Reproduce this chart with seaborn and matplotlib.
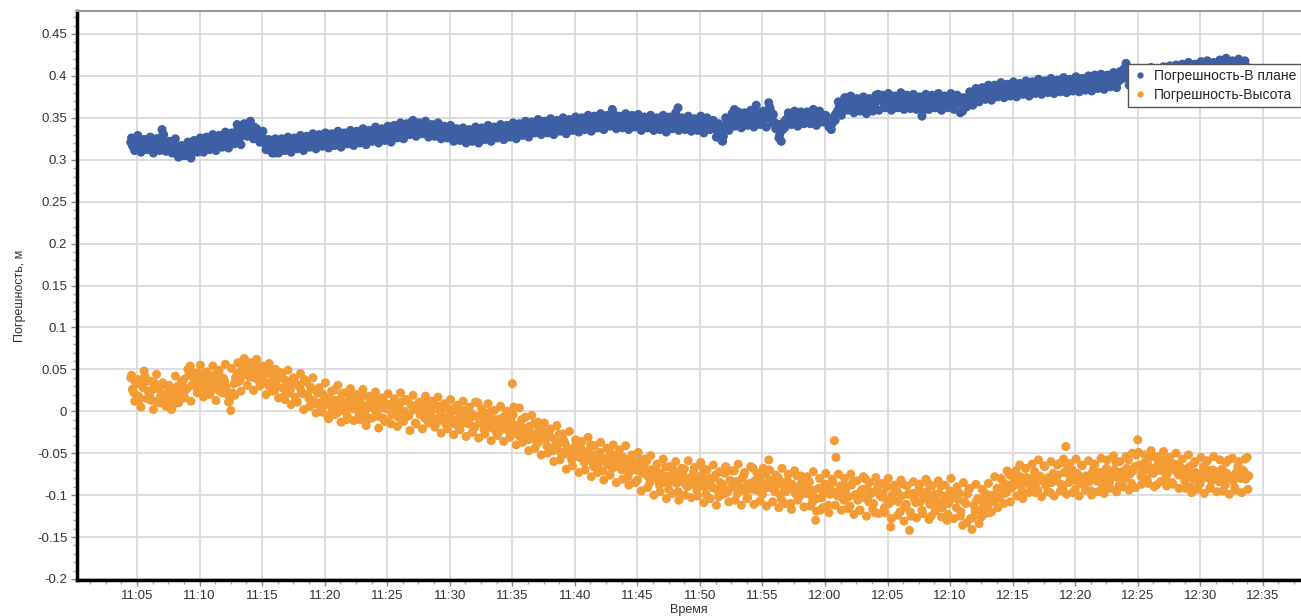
import numpy as np
import pandas as pd
import matplotlib
matplotlib.use("Agg")
import matplotlib.pyplot as plt
from matplotlib.ticker import MultipleLocator, FuncFormatter
import seaborn as sns

# время начала записи (минуты от полуночи), шаг 15 с;
# наборы отсчётов b и c сдвинуты на 7.5 с и 3.75 с
t_start = 11 * 60 + 4.5
t_step = 0.25
t_shift_b = 0.125
t_shift_c = 0.0625

# Погрешность в плане, м (12 отсчётов = 3 минуты в строке, начиная с 11:04:30)
err_plan = [
    0.321, 0.314, 0.319, 0.323, 0.316, 0.313, 0.320, 0.318, 0.315, 0.322, 0.336, 0.320,
    0.315, 0.321, 0.309, 0.315, 0.316, 0.306, 0.308, 0.315, 0.311, 0.318, 0.322, 0.317,
    0.321, 0.316, 0.322, 0.325, 0.319, 0.318, 0.325, 0.323, 0.320, 0.328, 0.342, 0.327,
    0.331, 0.338, 0.343, 0.334, 0.330, 0.324, 0.327, 0.319, 0.315, 0.320, 0.308, 0.316,
    0.319, 0.313, 0.318, 0.322, 0.317, 0.314, 0.321, 0.319, 0.316, 0.324, 0.320, 0.323,
    0.320, 0.326, 0.318, 0.324, 0.327, 0.321, 0.319, 0.326, 0.329, 0.322, 0.325, 0.328,
    0.323, 0.329, 0.326, 0.321, 0.330, 0.327, 0.324, 0.332, 0.328, 0.331, 0.326, 0.333,
    0.334, 0.329, 0.336, 0.338, 0.332, 0.339, 0.346, 0.337, 0.341, 0.333, 0.338, 0.335,
    0.332, 0.337, 0.334, 0.330, 0.336, 0.333, 0.338, 0.331, 0.328, 0.333, 0.324, 0.329,
    0.326, 0.331, 0.325, 0.329, 0.333, 0.327, 0.330, 0.335, 0.329, 0.332, 0.336, 0.331,
    0.334, 0.330, 0.337, 0.335, 0.332, 0.339, 0.336, 0.333, 0.340, 0.337, 0.334, 0.341,
    0.339, 0.343, 0.336, 0.340, 0.344, 0.337, 0.341, 0.345, 0.338, 0.342, 0.339, 0.344,
    0.340, 0.346, 0.343, 0.339, 0.347, 0.342, 0.345, 0.348, 0.341, 0.346, 0.360, 0.349,
    0.344, 0.347, 0.342, 0.346, 0.349, 0.341, 0.345, 0.348, 0.343, 0.340, 0.346, 0.342,
    0.341, 0.345, 0.339, 0.343, 0.346, 0.340, 0.344, 0.362, 0.342, 0.338, 0.345, 0.341,
    0.344, 0.340, 0.346, 0.342, 0.338, 0.345, 0.341, 0.336, 0.343, 0.323, 0.337, 0.344,
    0.346, 0.360, 0.344, 0.348, 0.342, 0.347, 0.351, 0.345, 0.365, 0.349, 0.346, 0.352,
    0.368, 0.350, 0.344, 0.339, 0.322, 0.345, 0.349, 0.352, 0.346, 0.350, 0.353, 0.347,
    0.351, 0.356, 0.348, 0.353, 0.350, 0.354, 0.347, 0.343, 0.336, 0.352, 0.358, 0.362,
    0.368, 0.374, 0.362, 0.366, 0.360, 0.365, 0.363, 0.358, 0.366, 0.361, 0.367, 0.378,
    0.372, 0.366, 0.370, 0.364, 0.372, 0.368, 0.375, 0.367, 0.371, 0.365, 0.369, 0.374,
    0.371, 0.352, 0.368, 0.373, 0.367, 0.370, 0.374, 0.366, 0.371, 0.368, 0.372, 0.369,
    0.368, 0.372, 0.358, 0.370, 0.375, 0.373, 0.379, 0.376, 0.382, 0.378, 0.374, 0.381,
    0.379, 0.383, 0.377, 0.381, 0.385, 0.380, 0.384, 0.387, 0.382, 0.386, 0.383, 0.388,
    0.384, 0.388, 0.382, 0.386, 0.389, 0.383, 0.387, 0.390, 0.385, 0.388, 0.384, 0.391,
    0.389, 0.386, 0.392, 0.388, 0.385, 0.391, 0.394, 0.389, 0.393, 0.387, 0.392, 0.395,
    0.391, 0.396, 0.393, 0.398, 0.394, 0.405, 0.410, 0.397, 0.392, 0.396, 0.383, 0.395,
    0.398, 0.394, 0.400, 0.396, 0.402, 0.397, 0.401, 0.404, 0.398, 0.403, 0.400, 0.405,
    0.402, 0.406, 0.401, 0.404, 0.408, 0.403, 0.407, 0.410, 0.405, 0.409, 0.406, 0.411,
    0.409, 0.413, 0.410, 0.407, 0.412, 0.414, 0.409, 0.411, 0.408, 0.410,
]
err_plan_b = [
    0.317, 0.322, 0.315, 0.319, 0.324, 0.318, 0.314, 0.321, 0.325, 0.317, 0.330, 0.315,
    0.312, 0.318, 0.314, 0.310, 0.305, 0.312, 0.316, 0.309, 0.319, 0.314, 0.317, 0.321,
    0.318, 0.324, 0.320, 0.317, 0.323, 0.327, 0.321, 0.326, 0.330, 0.324, 0.335, 0.331,
    0.336, 0.341, 0.337, 0.339, 0.327, 0.331, 0.322, 0.324, 0.318, 0.312, 0.314, 0.319,
    0.315, 0.320, 0.316, 0.313, 0.320, 0.323, 0.318, 0.315, 0.322, 0.318, 0.325, 0.321,
    0.324, 0.319, 0.323, 0.328, 0.322, 0.325, 0.329, 0.323, 0.320, 0.327, 0.324, 0.322,
    0.328, 0.324, 0.331, 0.327, 0.325, 0.333, 0.329, 0.326, 0.330, 0.334, 0.329, 0.331,
    0.330, 0.336, 0.333, 0.330, 0.337, 0.341, 0.340, 0.343, 0.336, 0.340, 0.334, 0.339,
    0.336, 0.331, 0.338, 0.335, 0.331, 0.337, 0.333, 0.336, 0.330, 0.327, 0.330, 0.326,
    0.330, 0.328, 0.332, 0.328, 0.331, 0.334, 0.328, 0.333, 0.331, 0.336, 0.332, 0.335,
    0.331, 0.336, 0.333, 0.338, 0.336, 0.334, 0.338, 0.340, 0.336, 0.339, 0.342, 0.338,
    0.341, 0.338, 0.342, 0.339, 0.336, 0.343, 0.340, 0.337, 0.343, 0.340, 0.345, 0.341,
    0.344, 0.341, 0.347, 0.344, 0.342, 0.345, 0.349, 0.343, 0.347, 0.352, 0.346, 0.343,
    0.347, 0.343, 0.349, 0.345, 0.340, 0.347, 0.343, 0.341, 0.346, 0.344, 0.348, 0.345,
    0.344, 0.340, 0.346, 0.342, 0.339, 0.345, 0.352, 0.348, 0.344, 0.341, 0.343, 0.346,
    0.342, 0.346, 0.341, 0.345, 0.343, 0.339, 0.344, 0.340, 0.331, 0.328, 0.342, 0.347,
    0.355, 0.348, 0.345, 0.351, 0.346, 0.349, 0.345, 0.353, 0.356, 0.352, 0.348, 0.350,
    0.360, 0.354, 0.340, 0.330, 0.336, 0.348, 0.346, 0.350, 0.353, 0.348, 0.351, 0.355,
    0.349, 0.353, 0.351, 0.348, 0.352, 0.349, 0.345, 0.340, 0.346, 0.355, 0.362, 0.366,
    0.371, 0.366, 0.370, 0.363, 0.368, 0.361, 0.366, 0.364, 0.362, 0.368, 0.373, 0.372,
    0.369, 0.373, 0.367, 0.371, 0.366, 0.374, 0.370, 0.366, 0.373, 0.368, 0.372, 0.370,
    0.362, 0.366, 0.372, 0.369, 0.372, 0.367, 0.371, 0.369, 0.366, 0.373, 0.370, 0.367,
    0.371, 0.366, 0.365, 0.373, 0.371, 0.377, 0.375, 0.380, 0.378, 0.381, 0.379, 0.377,
    0.382, 0.380, 0.384, 0.378, 0.383, 0.386, 0.381, 0.385, 0.384, 0.388, 0.385, 0.386,
    0.387, 0.385, 0.389, 0.384, 0.388, 0.386, 0.390, 0.387, 0.389, 0.386, 0.390, 0.388,
    0.387, 0.391, 0.389, 0.393, 0.390, 0.388, 0.392, 0.390, 0.395, 0.391, 0.394, 0.392,
    0.395, 0.392, 0.397, 0.395, 0.400, 0.408, 0.404, 0.394, 0.398, 0.388, 0.392, 0.398,
    0.396, 0.401, 0.398, 0.403, 0.399, 0.404, 0.400, 0.402, 0.406, 0.401, 0.404, 0.402,
    0.405, 0.403, 0.407, 0.405, 0.406, 0.410, 0.408, 0.406, 0.411, 0.407, 0.412, 0.409,
    0.412, 0.410, 0.415, 0.411, 0.409, 0.413, 0.411, 0.414, 0.412, 0.409,
]
err_plan_c = [
    0.326, 0.311, 0.329, 0.309, 0.324, 0.312, 0.327, 0.308, 0.325, 0.311, 0.330, 0.310,
    0.322, 0.308, 0.325, 0.303, 0.317, 0.305, 0.321, 0.302, 0.323, 0.309, 0.326, 0.309,
    0.327, 0.312, 0.330, 0.311, 0.329, 0.315, 0.333, 0.314, 0.332, 0.319, 0.337, 0.318,
    0.343, 0.328, 0.346, 0.325, 0.337, 0.321, 0.334, 0.312, 0.324, 0.308, 0.325, 0.308,
    0.325, 0.311, 0.327, 0.309, 0.326, 0.313, 0.329, 0.311, 0.328, 0.315, 0.331, 0.313,
    0.330, 0.316, 0.332, 0.314, 0.331, 0.317, 0.334, 0.315, 0.332, 0.319, 0.335, 0.317,
    0.334, 0.320, 0.337, 0.318, 0.335, 0.322, 0.339, 0.320, 0.337, 0.323, 0.340, 0.321,
    0.341, 0.326, 0.344, 0.325, 0.343, 0.330, 0.347, 0.328, 0.344, 0.331, 0.346, 0.327,
    0.342, 0.328, 0.344, 0.325, 0.340, 0.326, 0.341, 0.322, 0.337, 0.323, 0.338, 0.320,
    0.336, 0.322, 0.339, 0.320, 0.338, 0.324, 0.341, 0.322, 0.339, 0.326, 0.342, 0.324,
    0.341, 0.327, 0.344, 0.325, 0.343, 0.329, 0.346, 0.327, 0.345, 0.332, 0.348, 0.330,
    0.346, 0.332, 0.349, 0.330, 0.347, 0.334, 0.350, 0.331, 0.348, 0.335, 0.351, 0.333,
    0.350, 0.336, 0.353, 0.334, 0.352, 0.338, 0.355, 0.336, 0.353, 0.340, 0.356, 0.337,
    0.352, 0.338, 0.355, 0.336, 0.353, 0.339, 0.354, 0.335, 0.351, 0.338, 0.353, 0.335,
    0.350, 0.336, 0.353, 0.333, 0.351, 0.337, 0.356, 0.335, 0.350, 0.336, 0.352, 0.334,
    0.349, 0.335, 0.352, 0.332, 0.350, 0.336, 0.347, 0.327, 0.336, 0.322, 0.350, 0.335,
    0.355, 0.340, 0.357, 0.338, 0.356, 0.341, 0.359, 0.339, 0.356, 0.342, 0.358, 0.339,
    0.363, 0.344, 0.337, 0.326, 0.343, 0.339, 0.356, 0.342, 0.358, 0.340, 0.357, 0.343,
    0.357, 0.343, 0.360, 0.341, 0.358, 0.345, 0.353, 0.339, 0.343, 0.347, 0.369, 0.353,
    0.374, 0.359, 0.376, 0.356, 0.373, 0.358, 0.375, 0.355, 0.373, 0.358, 0.377, 0.359,
    0.377, 0.362, 0.379, 0.359, 0.376, 0.362, 0.380, 0.360, 0.377, 0.361, 0.378, 0.360,
    0.375, 0.358, 0.378, 0.360, 0.377, 0.362, 0.379, 0.359, 0.376, 0.362, 0.379, 0.360,
    0.377, 0.356, 0.374, 0.363, 0.381, 0.365, 0.385, 0.369, 0.386, 0.372, 0.389, 0.371,
    0.389, 0.375, 0.392, 0.374, 0.390, 0.376, 0.393, 0.375, 0.391, 0.378, 0.394, 0.376,
    0.393, 0.379, 0.396, 0.378, 0.394, 0.380, 0.397, 0.379, 0.395, 0.381, 0.398, 0.380,
    0.396, 0.382, 0.399, 0.381, 0.397, 0.383, 0.400, 0.382, 0.401, 0.385, 0.402, 0.384,
    0.401, 0.387, 0.404, 0.386, 0.405, 0.397, 0.415, 0.389, 0.403, 0.382, 0.401, 0.388,
    0.408, 0.392, 0.410, 0.391, 0.408, 0.394, 0.411, 0.393, 0.412, 0.396, 0.413, 0.395,
    0.414, 0.398, 0.416, 0.397, 0.414, 0.400, 0.417, 0.399, 0.418, 0.402, 0.416, 0.401,
    0.419, 0.404, 0.421, 0.402, 0.418, 0.405, 0.420, 0.403, 0.418, 0.401,
]

# Погрешность по высоте, м
err_height = [
    0.040, 0.022, 0.033, 0.015, 0.028, 0.036, 0.019, 0.026, 0.012, 0.030, 0.021, 0.008,
    0.024, 0.002, 0.016, 0.030, 0.022, 0.038, 0.027, 0.054, 0.041, 0.029, 0.036, 0.044,
    0.031, 0.039, 0.025, 0.034, 0.042, 0.028, 0.036, 0.020, 0.001, 0.033, 0.045, 0.038,
    0.052, 0.057, 0.041, 0.049, 0.055, 0.036, 0.047, 0.053, 0.031, 0.044, 0.025, 0.038,
    0.046, 0.018, 0.033, 0.026, 0.040, 0.012, 0.029, 0.021, 0.035, 0.015, 0.027, 0.009,
    0.022, 0.004, 0.017, -0.006, 0.011, 0.025, -0.002, 0.014, 0.006, -0.010, 0.019, 0.003,
    0.012, -0.004, 0.018, 0.001, -0.009, 0.009, 0.015, -0.006, 0.004, 0.011, -0.012, 0.007,
    -0.003, 0.010, 0.002, -0.011, 0.014, -0.005, 0.006, -0.014, 0.009, 0.001, -0.008, 0.012,
    -0.006, 0.008, -0.013, -0.001, 0.005, -0.017, -0.004, 0.003, -0.011, -0.020, 0.001, -0.008,
    -0.015, -0.003, -0.019, 0.010, -0.008, -0.022, -0.012, -0.001, -0.018, -0.026, -0.009, -0.014,
    -0.012, -0.024, 0.033, -0.017, -0.029, -0.010, -0.021, -0.034, -0.026, -0.015, -0.038, -0.030,
    -0.024, -0.041, -0.030, -0.047, -0.036, -0.027, -0.052, -0.039, -0.045, -0.058, -0.042, -0.050,
    -0.044, -0.061, -0.053, -0.040, -0.066, -0.057, -0.049, -0.071, -0.060, -0.054, -0.068, -0.058,
    -0.052, -0.070, -0.061, -0.078, -0.057, -0.066, -0.082, -0.064, -0.073, -0.059, -0.085, -0.076,
    -0.070, -0.088, -0.078, -0.066, -0.093, -0.081, -0.074, -0.096, -0.083, -0.069, -0.090, -0.079,
    -0.072, -0.094, -0.085, -0.068, -0.099, -0.080, -0.091, -0.076, -0.102, -0.087, -0.074, -0.095,
    -0.083, -0.071, -0.098, -0.090, -0.077, -0.104, -0.086, -0.068, -0.094, -0.081, -0.099, -0.075,
    -0.058, -0.087, -0.096, -0.079, -0.105, -0.091, -0.083, -0.110, -0.094, -0.077, -0.101, -0.089,
    -0.098, -0.084, -0.108, -0.130, -0.092, -0.103, -0.087, -0.112, -0.095, -0.035, -0.101, -0.089,
    -0.106, -0.090, -0.113, -0.084, -0.099, -0.118, -0.093, -0.081, -0.108, -0.097, -0.121, -0.088,
    -0.102, -0.115, -0.090, -0.138, -0.106, -0.095, -0.120, -0.087, -0.111, -0.142, -0.098, -0.109,
    -0.093, -0.118, -0.104, -0.086, -0.125, -0.099, -0.112, -0.089, -0.107, -0.130, -0.095, -0.101,
    -0.115, -0.098, -0.136, -0.110, -0.093, -0.141, -0.119, -0.104, -0.126, -0.097, -0.113, -0.100,
    -0.108, -0.092, -0.101, -0.085, -0.097, -0.076, -0.090, -0.071, -0.084, -0.095, -0.068, -0.081,
    -0.089, -0.072, -0.094, -0.078, -0.065, -0.086, -0.097, -0.074, -0.083, -0.062, -0.091, -0.042,
    -0.085, -0.070, -0.093, -0.076, -0.064, -0.088, -0.079, -0.095, -0.067, -0.083, -0.073, -0.090,
    -0.068, -0.084, -0.075, -0.061, -0.089, -0.072, -0.080, -0.058, -0.086, -0.066, -0.034, -0.077,
    -0.062, -0.081, -0.055, -0.074, -0.088, -0.066, -0.058, -0.079, -0.070, -0.085, -0.063, -0.076,
    -0.068, -0.083, -0.071, -0.090, -0.062, -0.079, -0.086, -0.066, -0.075, -0.092, -0.070, -0.081,
    -0.084, -0.069, -0.088, -0.058, -0.078, -0.091, -0.066, -0.080, -0.072, -0.055,
]
err_height_b = [
    0.026, 0.035, 0.018, 0.031, 0.042, 0.024, 0.013, 0.034, 0.027, 0.017, 0.032, 0.014,
    0.010, 0.020, 0.026, 0.012, 0.034, 0.025, 0.043, 0.031, 0.036, 0.045, 0.033, 0.027,
    0.036, 0.027, 0.043, 0.032, 0.024, 0.040, 0.029, 0.012, 0.022, 0.040, 0.035, 0.050,
    0.044, 0.050, 0.054, 0.040, 0.046, 0.051, 0.042, 0.034, 0.049, 0.036, 0.030, 0.043,
    0.028, 0.037, 0.022, 0.034, 0.017, 0.031, 0.024, 0.038, 0.020, 0.029, 0.013, 0.023,
    0.010, 0.020, 0.008, 0.016, 0.002, 0.013, 0.007, 0.021, 0.000, 0.012, 0.005, 0.015,
    0.002, 0.010, 0.006, -0.007, 0.013, 0.004, -0.002, 0.009, -0.008, 0.003, 0.008, -0.004,
    0.005, -0.007, 0.011, 0.000, -0.006, 0.008, 0.002, 0.005, -0.004, 0.010, 0.003, -0.005,
    0.002, -0.009, 0.006, -0.006, -0.013, 0.003, -0.008, -0.015, 0.000, -0.006, -0.014, -0.003,
    -0.008, -0.018, -0.006, -0.014, 0.000, -0.016, -0.005, -0.020, -0.010, -0.015, -0.022, -0.006,
    -0.019, -0.011, 0.005, -0.026, -0.016, -0.023, -0.031, -0.018, -0.029, -0.035, -0.022, -0.027,
    -0.035, -0.029, -0.044, -0.033, -0.040, -0.049, -0.035, -0.046, -0.053, -0.044, -0.048, -0.055,
    -0.050, -0.055, -0.047, -0.060, -0.052, -0.063, -0.055, -0.058, -0.064, -0.050, -0.062, -0.066,
    -0.061, -0.055, -0.067, -0.072, -0.063, -0.070, -0.059, -0.074, -0.068, -0.078, -0.070, -0.080,
    -0.081, -0.074, -0.085, -0.077, -0.084, -0.070, -0.086, -0.080, -0.075, -0.088, -0.082, -0.087,
    -0.080, -0.086, -0.077, -0.090, -0.083, -0.088, -0.079, -0.094, -0.085, -0.091, -0.097, -0.083,
    -0.090, -0.084, -0.092, -0.080, -0.095, -0.087, -0.093, -0.083, -0.088, -0.096, -0.086, -0.091,
    -0.082, -0.093, -0.088, -0.099, -0.085, -0.096, -0.092, -0.087, -0.098, -0.091, -0.085, -0.095,
    -0.090, -0.100, -0.094, -0.104, -0.118, -0.097, -0.091, -0.099, -0.085, -0.055, -0.094, -0.103,
    -0.095, -0.102, -0.088, -0.100, -0.106, -0.095, -0.103, -0.092, -0.099, -0.110, -0.094, -0.100,
    -0.097, -0.105, -0.110, -0.100, -0.095, -0.108, -0.101, -0.114, -0.099, -0.125, -0.104, -0.097,
    -0.108, -0.100, -0.096, -0.111, -0.103, -0.107, -0.098, -0.115, -0.101, -0.110, -0.104, -0.097,
    -0.105, -0.120, -0.108, -0.099, -0.128, -0.112, -0.106, -0.118, -0.109, -0.103, -0.121, -0.107,
    -0.099, -0.104, -0.094, -0.098, -0.088, -0.092, -0.083, -0.087, -0.078, -0.086, -0.079, -0.088,
    -0.080, -0.085, -0.077, -0.083, -0.088, -0.079, -0.085, -0.081, -0.076, -0.087, -0.073, -0.065,
    -0.078, -0.082, -0.074, -0.086, -0.080, -0.077, -0.084, -0.073, -0.081, -0.076, -0.087, -0.079,
    -0.074, -0.078, -0.070, -0.079, -0.073, -0.080, -0.068, -0.075, -0.071, -0.052, -0.064, -0.072,
    -0.070, -0.065, -0.073, -0.068, -0.061, -0.071, -0.067, -0.074, -0.062, -0.069, -0.072, -0.066,
    -0.074, -0.078, -0.066, -0.080, -0.073, -0.085, -0.075, -0.079, -0.070, -0.083, -0.077, -0.072,
    -0.076, -0.081, -0.074, -0.079, -0.083, -0.073, -0.078, -0.070, -0.081, -0.077,
]
err_height_c = [
    0.043, 0.012, 0.038, 0.005, 0.048, 0.015, 0.036, 0.002, 0.044, 0.010, 0.034, 0.006,
    0.031, 0.005, 0.042, 0.010, 0.036, 0.016, 0.050, 0.012, 0.046, 0.022, 0.055, 0.017,
    0.047, 0.020, 0.054, 0.013, 0.049, 0.022, 0.056, 0.011, 0.051, 0.019, 0.058, 0.024,
    0.063, 0.031, 0.058, 0.025, 0.062, 0.030, 0.054, 0.020, 0.057, 0.024, 0.050, 0.016,
    0.043, 0.014, 0.049, 0.008, 0.039, 0.011, 0.045, 0.002, 0.036, 0.006, 0.040, -0.002,
    0.028, -0.001, 0.034, -0.009, 0.024, -0.004, 0.031, -0.013, 0.022, -0.006, 0.027, -0.011,
    0.020, -0.010, 0.026, -0.017, 0.018, -0.008, 0.023, -0.020, 0.016, -0.012, 0.021, -0.015,
    0.015, -0.018, 0.022, -0.012, 0.013, -0.023, 0.019, -0.015, 0.011, -0.021, 0.018, -0.014,
    0.012, -0.019, 0.017, -0.026, 0.009, -0.021, 0.014, -0.028, 0.007, -0.022, 0.012, -0.030,
    0.005, -0.025, 0.011, -0.032, 0.003, -0.027, 0.009, -0.035, 0.001, -0.029, 0.006, -0.036,
    0.000, -0.031, -0.004, -0.040, 0.004, -0.037, -0.007, -0.047, -0.005, -0.044, -0.013, -0.052,
    -0.014, -0.050, -0.021, -0.060, -0.017, -0.058, -0.027, -0.069, -0.024, -0.065, -0.034, -0.073,
    -0.036, -0.070, -0.031, -0.078, -0.041, -0.073, -0.037, -0.082, -0.044, -0.076, -0.040, -0.085,
    -0.046, -0.081, -0.041, -0.088, -0.052, -0.085, -0.049, -0.095, -0.057, -0.091, -0.053, -0.100,
    -0.063, -0.096, -0.057, -0.104, -0.066, -0.098, -0.060, -0.106, -0.068, -0.100, -0.059, -0.103,
    -0.067, -0.101, -0.061, -0.109, -0.070, -0.104, -0.064, -0.112, -0.072, -0.099, -0.066, -0.108,
    -0.071, -0.106, -0.063, -0.112, -0.073, -0.103, -0.066, -0.111, -0.074, -0.107, -0.068, -0.113,
    -0.070, -0.108, -0.076, -0.115, -0.068, -0.110, -0.075, -0.117, -0.071, -0.106, -0.077, -0.114,
    -0.078, -0.113, -0.072, -0.119, -0.080, -0.115, -0.074, -0.121, -0.081, -0.112, -0.075, -0.118,
    -0.080, -0.116, -0.075, -0.123, -0.083, -0.118, -0.078, -0.125, -0.085, -0.117, -0.079, -0.122,
    -0.086, -0.121, -0.080, -0.128, -0.088, -0.124, -0.082, -0.131, -0.089, -0.120, -0.084, -0.127,
    -0.087, -0.122, -0.081, -0.129, -0.089, -0.119, -0.083, -0.126, -0.088, -0.123, -0.080, -0.128,
    -0.090, -0.125, -0.085, -0.133, -0.092, -0.127, -0.087, -0.134, -0.093, -0.122, -0.086, -0.120,
    -0.078, -0.115, -0.080, -0.110, -0.071, -0.108, -0.074, -0.101, -0.064, -0.104, -0.068, -0.097,
    -0.063, -0.097, -0.058, -0.102, -0.066, -0.096, -0.060, -0.101, -0.064, -0.095, -0.057, -0.099,
    -0.062, -0.097, -0.057, -0.101, -0.065, -0.094, -0.059, -0.100, -0.063, -0.096, -0.056, -0.098,
    -0.058, -0.092, -0.053, -0.096, -0.060, -0.090, -0.054, -0.094, -0.050, -0.091, -0.049, -0.087,
    -0.052, -0.086, -0.047, -0.090, -0.054, -0.084, -0.048, -0.089, -0.055, -0.087, -0.050, -0.092,
    -0.057, -0.092, -0.052, -0.097, -0.060, -0.093, -0.055, -0.098, -0.059, -0.091, -0.054, -0.096,
    -0.058, -0.095, -0.061, -0.099, -0.056, -0.094, -0.060, -0.097, -0.057, -0.093,
]

series_names = ["Погрешность-В плане", "Погрешность-Высота"]
colors = {series_names[0]: "#3f5fa5", series_names[1]: "#f39b34"}
readings = {
    series_names[0]: [(0.0, err_plan), (t_shift_b, err_plan_b), (t_shift_c, err_plan_c)],
    series_names[1]: [(0.0, err_height), (t_shift_b, err_height_b), (t_shift_c, err_height_c)],
}

frames = []
for name in series_names:
    for shift, vals in readings[name]:
        t = t_start + shift + t_step * np.arange(len(vals))
        frames.append(pd.DataFrame({"t": t, "err": vals, "series": name}))
df = pd.concat(frames, ignore_index=True).sort_values(["series", "t"], kind="stable")

sns.set_theme(style="white")
plt.rcParams["font.family"] = ["Liberation Sans", "DejaVu Sans"]

fig = plt.figure(figsize=(13.01, 6.16), dpi=100)
ax = fig.add_axes([77 / 1301, 36 / 616, 1224 / 1301, 569 / 616])

sns.scatterplot(data=df, x="t", y="err", hue="series", hue_order=series_names,
                palette=colors, s=42, linewidth=0, alpha=1, ax=ax)

ax.set_xlim(660.2, 758.05)
ax.set_ylim(-0.2012, 0.4774)

ax.xaxis.set_major_locator(MultipleLocator(5))
ax.xaxis.set_minor_locator(MultipleLocator(1.25))
ax.xaxis.set_major_formatter(FuncFormatter(lambda m, p: f"{int(m // 60)}:{int(round(m % 60)):02d}"))
ax.yaxis.set_major_locator(MultipleLocator(0.05))
ax.yaxis.set_minor_locator(MultipleLocator(0.01))
ax.yaxis.set_major_formatter(FuncFormatter(lambda v, p: f"{v:.2f}".rstrip("0").rstrip(".") if abs(v) > 1e-9 else "0"))

ax.grid(True, which="major", color="#dadada", linewidth=1.3)
ax.set_axisbelow(True)

ax.tick_params(which="major", direction="out", length=4, width=1, color="#888888",
               labelsize=9.5, labelcolor="#333333", pad=3)
ax.tick_params(which="minor", direction="out", length=3, width=1, color="#aaaaaa")
ax.tick_params(axis="x", which="both", bottom=True)
ax.tick_params(axis="y", which="both", left=True)

for side in ["left", "bottom"]:
    ax.spines[side].set_color("black")
    ax.spines[side].set_linewidth(2.5)
ax.spines["top"].set_color("#999999")
ax.spines["top"].set_linewidth(1.5)
ax.spines["right"].set_visible(False)

ax.set_xlabel("Время", fontsize=9, color="#333333", labelpad=2)
ax.set_ylabel("Погрешность, м", fontsize=9, color="#333333", labelpad=8)

handles, labels = ax.get_legend_handles_labels()
ax.legend(handles, labels, loc="upper left", bbox_to_anchor=(1128 / 1301, 1 - 64 / 616),
          bbox_transform=fig.transFigure, fontsize=10, frameon=True, fancybox=False,
          edgecolor="#555555", framealpha=1, borderpad=0.35, handletextpad=0.5,
          labelspacing=0.35, borderaxespad=0, markerscale=0.7, handlelength=1.0)

fig.savefig("out.png", dpi=100)
